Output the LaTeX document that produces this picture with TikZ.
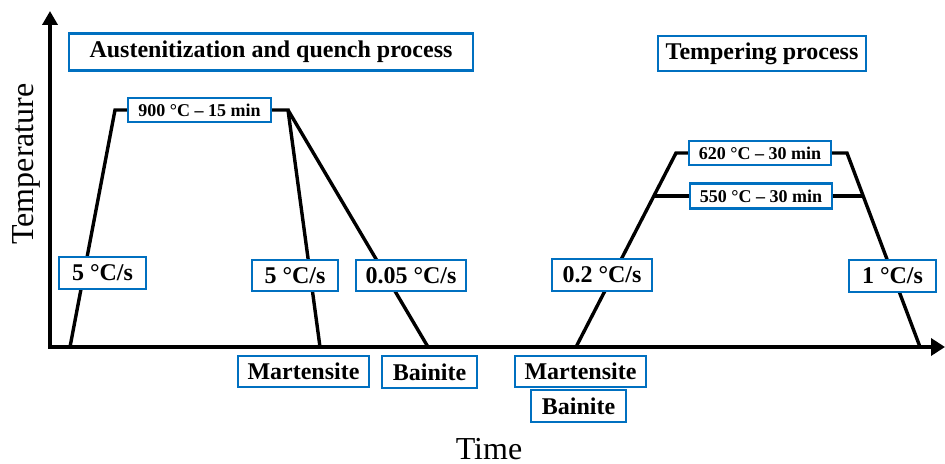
\documentclass[tikz,border=0pt]{standalone}
\usepackage{fontspec}
\setmainfont{Liberation Serif}
\usepackage{tikz}
\usetikzlibrary{backgrounds}
\usetikzlibrary{arrows.meta}
\definecolor{boxblue}{RGB}{0,112,192}
\tikzstyle{heat}=[x=0.5pt, y=-0.5pt, font=\fontsize{12}{14}\selectfont\bfseries]
\tikzstyle{lbl}=[rectangle, draw=boxblue, line width=1.15pt, fill=white, inner sep=0pt, minimum height=16pt]
\tikzstyle{title}=[lbl, minimum height=18.5pt]
\tikzstyle{hold}=[lbl, minimum height=12pt, font=\fontsize{9}{11}\selectfont\bfseries]
\tikzstyle{axlbl}=[inner sep=0pt, font=\fontsize{16}{19}\selectfont]
\tikzstyle{axis}=[line width=2pt, {Triangle[width=7.5pt,length=7pt]}-{Triangle[width=8.5pt,length=7pt]}]
\tikzstyle{path}=[line width=1.7pt]

\begin{document}
\begin{tikzpicture}[heat]
	\useasboundingbox (0,0) rectangle (945,464);

	%The axes
	\coordinate (ytip) at (50,11);
	\coordinate (orig) at (50,347);
	\coordinate (xtip) at (945,347);
	\draw[axis] (ytip) -- (orig) -- (xtip);
	\node[axlbl, rotate=90, anchor=base] (tlbl) at (33,164) {Temperature};
	\node[axlbl, anchor=base] (timelbl) at (489,459) {Time};

	%The process titles
	\node[title, minimum width=202pt] (aq) at (271,52) {Austenitization and quench process};
	\node[title, minimum width=104pt, minimum height=17.5pt] (tp) at (762,53.5) {Tempering process};

	%The holding stages
	\node[hold, minimum width=71.5pt] (h900) at (199.5,110) {900 °C – 15 min};
	\node[hold, minimum width=71pt] (h620) at (760,153) {620 °C – 30 min};
	\node[hold, minimum width=71pt, minimum height=12.5pt] (h550) at (761,196) {550 °C – 30 min};

	%The rates
	\node[lbl, minimum width=43.5pt] (r1) at (102.5,273) {5 °C/s};
	\node[lbl, minimum width=43pt, minimum height=15.5pt] (r2) at (295,275.5) {5 °C/s};
	\node[lbl, minimum width=55pt, minimum height=15.5pt] (r3) at (411,275.5) {0.05 °C/s};
	\node[lbl, minimum width=50pt] (r4) at (602,275) {0.2 °C/s};
	\node[lbl, minimum width=43.5pt] (r5) at (892.5,276) {1 °C/s};

	%The microstructures
	\node[lbl, minimum width=65.5pt, minimum height=15.5pt] (m1) at (303.5,371.5) {Martensite};
	\node[lbl, minimum width=47.5pt] (b1) at (429.5,372) {Bainite};
	\node[lbl, minimum width=65.5pt, minimum height=15.5pt] (m2) at (580.5,371.5) {Martensite};
	\node[lbl, minimum width=47.5pt] (b2) at (578.5,406) {Bainite};

	%The quench cycle
	\coordinate (a0) at (70,347);
	\coordinate (a1) at (115,110);
	\coordinate (a2) at (288,110);
	\coordinate (a3) at (320,347);
	\coordinate (a4) at (428,347);

	%The tempering cycle
	\coordinate (t0) at (576,347);
	\coordinate (t1) at (676,153);
	\coordinate (t2) at (847,153);
	\coordinate (t3) at (920,347);
	\coordinate (t4) at (653.3,196);
	\coordinate (t5) at (863.5,196);

	\begin{scope}[on background layer]
		\draw[path] (a0) -- (a1) -- (h900.west);
		\draw[path] (h900.east) -- (a2) -- (a3);
		\draw[path] (a2) -- (a4);
		\draw[path] (t0) -- (t1) -- (h620.west);
		\draw[path] (h620.east) -- (t2) -- (t3);
		\draw[path] (t4) -- (h550.west);
		\draw[path] (h550.east) -- (t5);
	\end{scope}
\end{tikzpicture}
\end{document}
